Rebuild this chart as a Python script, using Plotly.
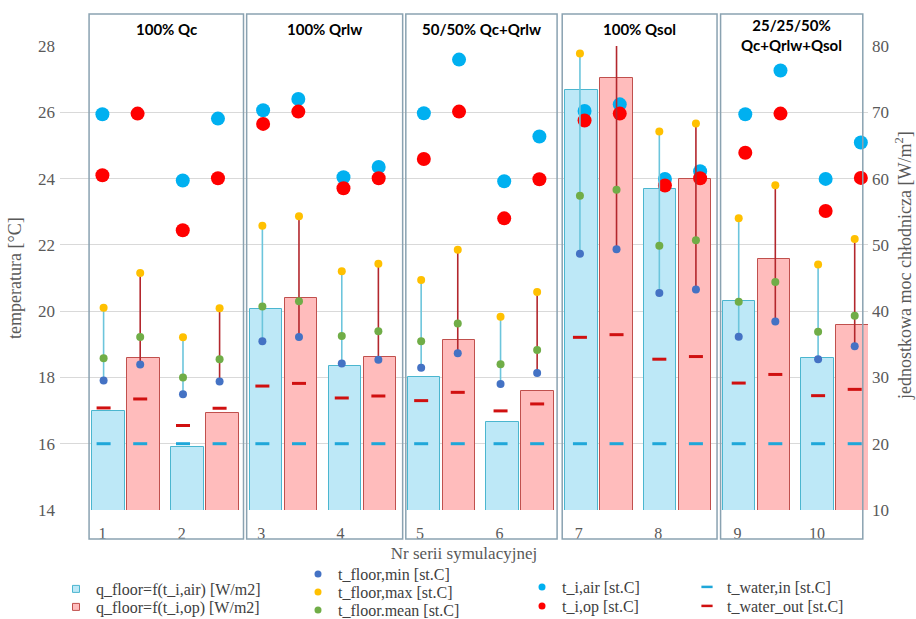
import plotly.graph_objects as go

# ---------------- data ----------------
series = [1, 2, 3, 4, 5, 6, 7, 8, 9, 10]
tick_labels = ["1", "2", "3", "4", "5", "6", "7", "8", "9", "10"]
panel_titles = ["100% Qc", "100% Qrlw", "50/50% Qc+Qrlw", "100% Qsol", "25/25/50%<br>Qc+Qrlw+Qsol"]
panel_left = [0.53, 2.53, 4.55, 6.535, 8.545]
panel_right = [2.49, 4.51, 6.47, 8.50, 10.35]

# unit cooling power [W/m2]
q_air = [25.0, 19.5, 40.3, 31.7, 30.0, 23.3, 73.4, 58.4, 41.6, 32.9]
q_op = [32.9, 24.7, 42.0, 33.15, 35.6, 27.9, 75.2, 60.0, 47.9, 37.85]

# temperatures [st.C] for the q=f(t_i,air) case
tmin_a = [17.91, 17.49, 19.09, 18.42, 18.29, 17.80, 21.73, 20.55, 19.23, 18.55]
tmax_a = [20.10, 19.21, 22.58, 21.20, 20.94, 19.83, 27.77, 25.42, 22.80, 21.41]
tmean_a = [18.58, 18.00, 20.14, 19.25, 19.09, 18.40, 23.48, 21.97, 20.28, 19.38]
tair_a = [25.94, 23.94, 26.06, 24.04, 25.97, 23.92, 26.04, 23.99, 25.94, 23.99]
top_a = [24.10, 22.44, 25.65, 23.71, 24.59, 22.80, 25.75, 23.79, 24.78, 23.02]
twin_a = [16.0, 16.0, 16.0, 16.0, 16.0, 16.0, 16.0, 16.0, 16.0, 16.0]
twout_a = [17.08, 16.55, 17.74, 17.38, 17.30, 16.99, 19.21, 18.55, 17.83, 17.45]

# temperatures [st.C] for the q=f(t_i,op) case
tmin_o = [18.39, 17.88, 19.22, 18.53, 18.73, 18.13, 21.87, 20.65, 19.69, 18.94]
tmax_o = [21.15, 20.09, 22.86, 21.43, 21.85, 20.58, 28.03, 25.66, 23.80, 22.18]
tmean_o = [19.22, 18.55, 20.30, 19.39, 19.63, 18.83, 23.66, 22.14, 20.88, 19.86]
tair_o = [28.18, 25.81, 26.40, 24.35, 27.59, 25.27, 26.24, 24.22, 27.26, 25.09]
top_o = [25.96, 24.01, 26.02, 24.01, 26.02, 23.98, 25.96, 24.01, 25.96, 24.02]
twin_o = [16.0, 16.0, 16.0, 16.0, 16.0, 16.0, 16.0, 16.0, 16.0, 16.0]
twout_o = [17.35, 17.07, 17.82, 17.44, 17.55, 17.20, 19.29, 18.63, 18.09, 17.64]

# ---------------- styling ----------------
FONT = "Liberation Serif"
GRAY = "#595959"
C_AIR_FILL, C_AIR_LINE = "#BDE8F7", "#4BB6CF"
C_OP_FILL, C_OP_LINE = "#FFBCBC", "#C0504D"
C_MIN, C_MAX, C_MEAN = "#4472C4", "#FFC000", "#70AD47"
C_TAIR, C_TOP = "#00B0F0", "#FF0000"
C_WIN, C_WOUT = "#1FA7D9", "#D01010"
C_LINE_A, C_LINE_O = "#6CC5DC", "#B3272D"
C_BOX = "#8AA2B1"

BAR_OFF, BAR_W = 0.222, 0.4125
PT_OFF = 0.2305
TI_OFF = 0.219

xa_bar = [s - BAR_OFF for s in series]
xo_bar = [s + BAR_OFF for s in series]
xa_pt = [s - PT_OFF for s in series]
xo_pt = [s + PT_OFF for s in series]
xa_ti = [s - TI_OFF for s in series]
xo_ti = [s + TI_OFF for s in series]

fig = go.Figure()

# bars (primary y = right axis, W/m2)
fig.add_trace(go.Bar(x=xa_bar, y=q_air, width=BAR_W, xaxis="x", yaxis="y",
                     marker=dict(color=C_AIR_FILL, line=dict(color=C_AIR_LINE, width=1)),
                     showlegend=False, hoverinfo="skip"))
fig.add_trace(go.Bar(x=xo_bar, y=q_op, width=BAR_W, xaxis="x", yaxis="y",
                     marker=dict(color=C_OP_FILL, line=dict(color=C_OP_LINE, width=1)),
                     showlegend=False, hoverinfo="skip"))


def seg(xs, lo, hi):
    X, Y = [], []
    for x, a, b in zip(xs, lo, hi):
        X += [x, x, None]
        Y += [a, b, None]
    return X, Y


X, Y = seg(xa_pt, tmin_a, tmax_a)
fig.add_trace(go.Scatter(x=X, y=Y, mode="lines", line=dict(color=C_LINE_A, width=1.6),
                         xaxis="x3", yaxis="y2", showlegend=False, hoverinfo="skip"))
X, Y = seg(xo_pt, tmin_o, tmax_o)
fig.add_trace(go.Scatter(x=X, y=Y, mode="lines", line=dict(color=C_LINE_O, width=1.6),
                         xaxis="x3", yaxis="y2", showlegend=False, hoverinfo="skip"))

xp = xa_pt + xo_pt


def pts(yvals, color, size, axis="x3", symbol="circle", lw=0):
    xs = xp if axis == "x3" else xa_ti + xo_ti
    mk = dict(color=color, size=size, symbol=symbol)
    if symbol == "line-ew":
        mk["line"] = dict(color=color, width=lw)
    fig.add_trace(go.Scatter(x=xs, y=yvals, mode="markers", marker=mk, xaxis=axis, yaxis="y2",
                             showlegend=False, hoverinfo="skip", cliponaxis=False))


pts(twin_a + twin_o, C_WIN, 10, symbol="line-ew", lw=3)
pts(twout_a + twout_o, C_WOUT, 10, symbol="line-ew", lw=3)
pts(tair_a + tair_o, C_TAIR, 14, axis="x2")
pts(top_a + top_o, C_TOP, 14, axis="x2")
pts(tmin_a + tmin_o, C_MIN, 8)
pts(tmax_a + tmax_o, C_MAX, 8)
pts(tmean_a + tmean_o, C_MEAN, 8)

# legend-only entries, one small legend each: (name, marker, text-left px, row-centre px)
legend_items = [
    ("q_floor=f(t_i,air) [W/m2]", dict(symbol="square", size=7, color=C_AIR_FILL, line=dict(color=C_AIR_LINE, width=1)), 96, 589),
    ("q_floor=f(t_i,op) [W/m2]", dict(symbol="square", size=7, color=C_OP_FILL, line=dict(color=C_OP_LINE, width=1)), 96, 607),
    ("t_floor,min [st.C]", dict(symbol="circle", size=7, color=C_MIN), 338, 574),
    ("t_floor,max [st.C]", dict(symbol="circle", size=7, color=C_MAX), 338, 592),
    ("t_floor.mean [st.C]", dict(symbol="circle", size=7, color=C_MEAN), 338, 610),
    ("t_i,air [st.C]", dict(symbol="circle", size=7, color=C_TAIR), 562, 587),
    ("t_i,op [st.C]", dict(symbol="circle", size=7, color=C_TOP), 562, 606),
    ("t_water,in [st.C]", dict(symbol="line-ew", size=8, color=C_WIN, line=dict(color=C_WIN, width=2.5)), 727, 587),
    ("t_water_out [st.C]", dict(symbol="line-ew", size=8, color=C_WOUT, line=dict(color=C_WOUT, width=2.5)), 727, 606),
]

W, H = 916, 619
leg_font = dict(family=FONT, size=16, color="#404040")
legend_layout = {}
for k, (name, mk, tx, ty) in enumerate(legend_items):
    lid = "legend" if k == 0 else "legend%d" % (k + 1)
    fig.add_trace(go.Scatter(x=[None], y=[None], mode="markers", name=name, marker=mk,
                             legend=lid, xaxis="x", yaxis="y"))
    legend_layout[lid] = dict(x=(tx - 40) / W, y=1 - ty / H, xref="container", yref="container",
                              xanchor="left", yanchor="middle", bgcolor="rgba(0,0,0,0)",
                              borderwidth=0, font=leg_font, itemsizing="trace")

# panel boxes and titles
shapes = []
annotations = []
for i, (l, r) in enumerate(zip(panel_left, panel_right)):
    shapes.append(dict(type="rect", xref="x", yref="paper", x0=l, x1=r, y0=-0.0625, y1=1.069,
                       line=dict(color=C_BOX, width=1.5), fillcolor="rgba(0,0,0,0)", layer="above"))
    two = "<br>" in panel_titles[i]
    annotations.append(dict(xref="x", yref="paper", x=(l + r) / 2, y=1.024 if two else 1.0366,
                            text="<b>%s</b>" % panel_titles[i], showarrow=False,
                            font=dict(family="Lato", size=15, color="#000000"),
                            xanchor="center", yanchor="middle"))

# axis titles
annotations.append(dict(xref="paper", yref="paper", x=-0.0557, y=0.5, text="temperatura [°C]",
                        textangle=-90, showarrow=False, xanchor="center", yanchor="middle",
                        font=dict(family=FONT, size=18, color=GRAY)))
annotations.append(dict(xref="paper", yref="paper", x=1.0433, y=0.528,
                        text="jednostkowa moc chłodnicza [W/m<sup>2</sup>]",
                        textangle=-90, showarrow=False, xanchor="center", yanchor="middle",
                        font=dict(family=FONT, size=18, color=GRAY)))

fig.update_layout(
    width=W, height=H,
    margin=dict(l=60, r=48, t=46, b=109, autoexpand=False),
    paper_bgcolor="white", plot_bgcolor="white",
    barmode="overlay", bargap=0,
    font=dict(family=FONT, color=GRAY),
    shapes=shapes, annotations=annotations,
    xaxis=dict(range=[0.161, 10.416], visible=False),
    xaxis2=dict(range=[0.2534, 10.308], overlaying="x", visible=False),
    xaxis3=dict(range=[0.2203, 10.398], overlaying="x", showgrid=False, zeroline=False,
                showline=False, ticks="", tickvals=[s - 0.245 for s in series], ticktext=tick_labels,
                tickfont=dict(family=FONT, size=16, color=GRAY), ticklabelstandoff=12,
                title=dict(text="Nr serii symulacyjnej", font=dict(family=FONT, size=17, color=GRAY),
                           standoff=6)),
    yaxis=dict(range=[10, 80], dtick=10, side="right", showgrid=True, gridcolor="#D9D9D9",
               gridwidth=1, zeroline=False, showline=False, ticks="",
               tickfont=dict(family=FONT, size=17, color=GRAY), ticklabelstandoff=3),
    yaxis2=dict(range=[14, 28], dtick=2, side="left", overlaying="y", showgrid=False,
                zeroline=False, showline=False, ticks="",
                tickfont=dict(family=FONT, size=17, color=GRAY), ticklabelstandoff=4),
    **legend_layout,
)

fig.write_html("out.html", config={"displayModeBar": False},
               post_script="document.body.style.margin='0px';")
